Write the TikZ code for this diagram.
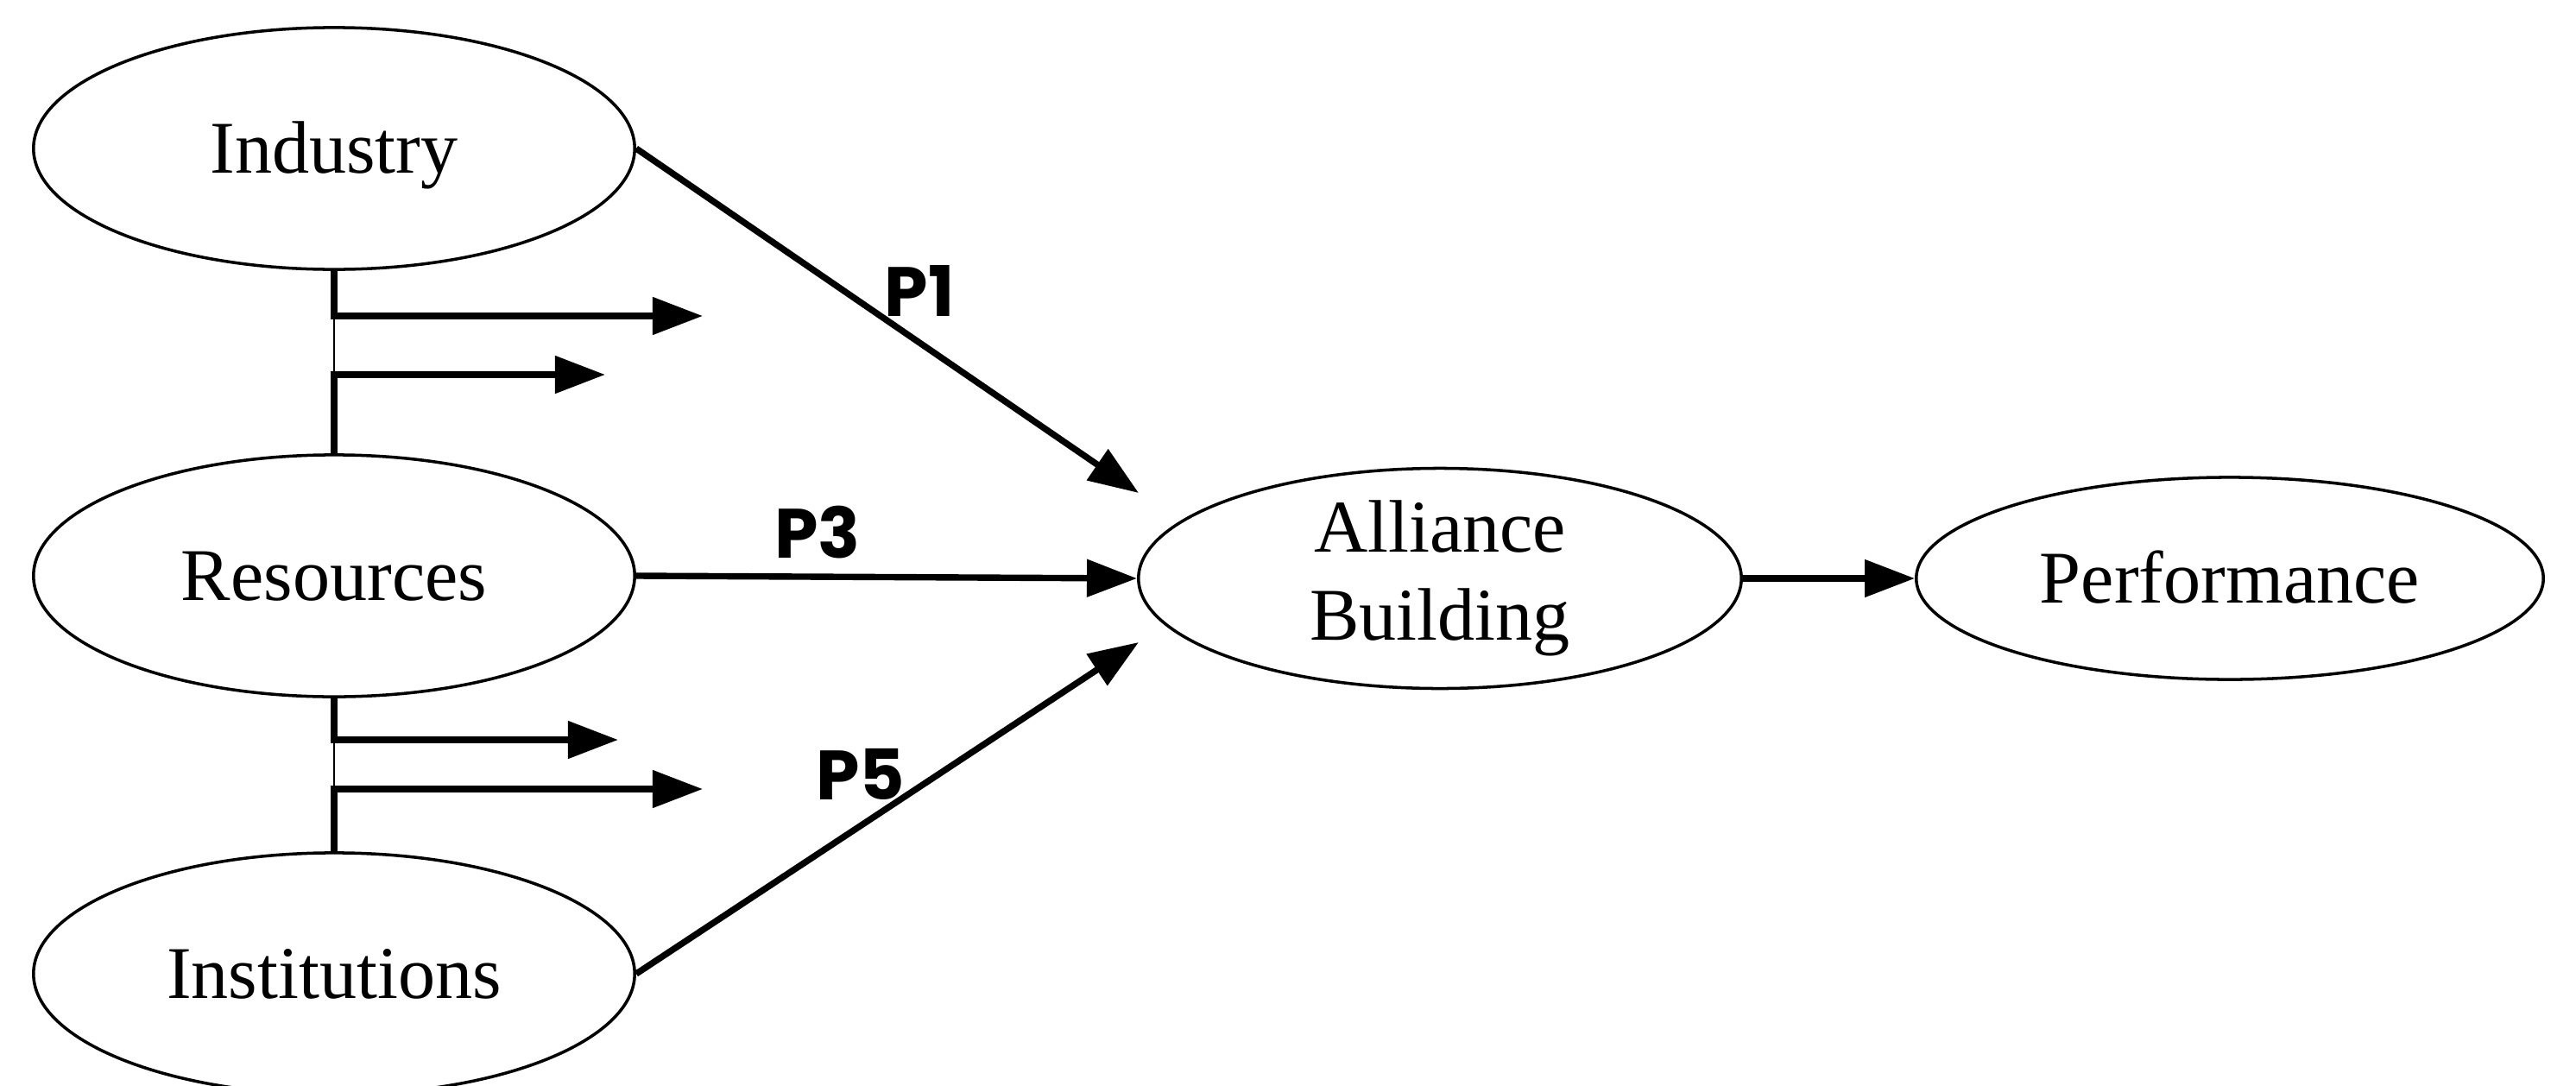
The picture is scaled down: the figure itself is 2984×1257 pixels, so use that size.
\documentclass[tikz,border=0pt]{standalone}
\usepackage{fontspec}
\setmainfont{Liberation Serif}
\newfontfamily\plabelfont{Poppins}
\usetikzlibrary{arrows.meta, shapes.geometric}

\tikzset{
    base/.style={ellipse, draw, line width=1pt, inner sep=0pt,
        font=\fontsize{24.5}{29}\selectfont},
    factor/.style={base, minimum width=6.96cm, minimum height=2.8cm,
        text height=16.2pt, text depth=0pt},
    link/.style={line width=2.1pt, -{Triangle[length=16.5pt, width=12pt]}},
    plabel/.style={font=\plabelfont\bfseries\fontsize{23}{27}\selectfont, inner sep=0pt},
}

\begin{document}
\begin{tikzpicture}[x=0.01cm, y=-0.01cm]
    % размер листа
    \useasboundingbox (0,0) rectangle (2984,1257);

    % факторы слева
    \node[factor] (industry)     at (387,172)  {Industry};
    \node[factor] (resources)    at (387,667)  {Resources};
    \node[factor] (institutions) at (387,1128) {Institutions};

    % результат
    \node[base, minimum width=6.98cm, minimum height=2.36cm, align=center]
        (alliance) at (1668,670) {Alliance\\Building};
    \node[base, minimum width=7.26cm, minimum height=2.34cm,
        text height=16.2pt, text depth=0pt] (performance) at (2583,670) {Performance};

    % концы стрелок
    \coordinate (ia) at (814,366);
    \coordinate (ib) at (701,434);
    \coordinate (ra) at (716,857);
    \coordinate (rb) at (814,914);
    \coordinate (p1end) at (1319,571);
    \coordinate (p5end) at (1319,744);

    % связи между факторами
    \draw[link] (industry.south) |- (ia);
    \draw[link] (resources.north) |- (ib);
    \draw[line width=0.5pt] (industry.south |- ia) -- (industry.south |- ib);
    \draw[link] (resources.south) |- (ra);
    \draw[link] (institutions.north) |- (rb);
    \draw[line width=0.5pt] (resources.south |- ra) -- (resources.south |- rb);

    % пропозиции
    \draw[link] (industry.east) -- (p1end);
    \draw[link] (resources.east) -- (alliance.west);
    \draw[link] (institutions.east) -- (p5end);
    \draw[link] (alliance.east) -- (performance.west);

    \node[plabel] (p1) at (1065,337) {P1};
    \node[plabel] (p3) at (947,617)  {P3};
    \node[plabel] (p5) at (997,897)  {P5};
\end{tikzpicture}
\end{document}
